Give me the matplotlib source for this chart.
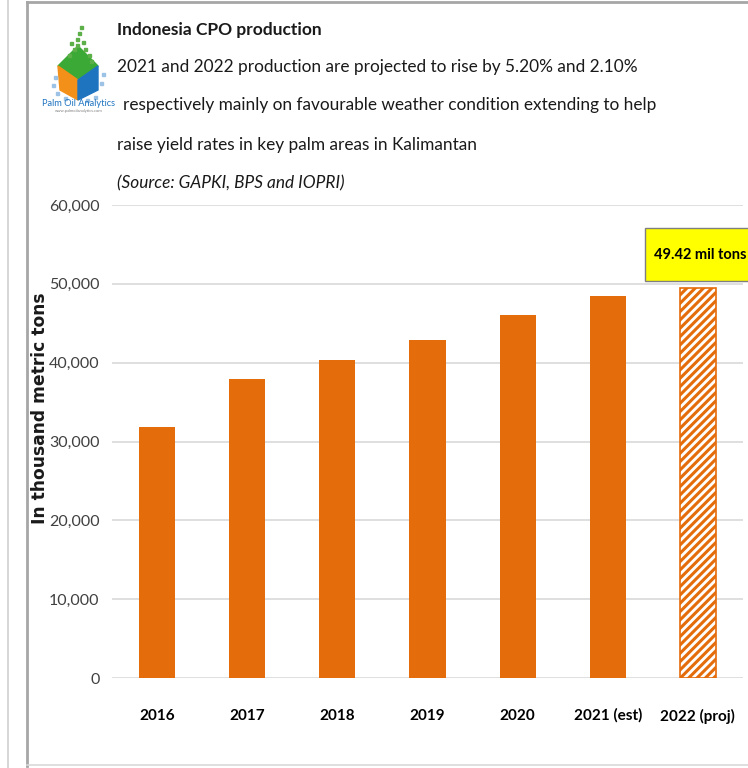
import matplotlib
matplotlib.use("Agg")
import matplotlib.pyplot as plt
from matplotlib.patches import Rectangle, Polygon
from matplotlib.lines import Line2D
from matplotlib.ticker import FuncFormatter

# Indonesia CPO production, thousand metric tons
years = ["2016", "2017", "2018", "2019", "2020", "2021 (est)", "2022 (proj)"]
production = [31800, 37900, 40400, 42900, 46000, 48400, 49420]
projected = [False, False, False, False, False, False, True]
yticks = [0, 10000, 20000, 30000, 40000, 50000, 60000]

ORANGE = "#E46C0A"
FONT = ["Lato", "DejaVu Sans"]
W, H = 748, 768

plt.rcParams["hatch.linewidth"] = 2.2
plt.rcParams["hatch.color"] = ORANGE
plt.rcParams["font.family"] = FONT

fig = plt.figure(figsize=(W / 100, H / 100), dpi=100)


def fx(px):
    return px / W


def fy(py):
    return 1 - py / H


def fit_width(txt, width_px):
    # scale the font size so the text spans the given pixel width
    fig.canvas.draw()
    bb = txt.get_window_extent()
    txt.set_fontsize(txt.get_fontsize() * width_px / bb.width)
    return txt.get_fontsize()


# panel frame lines
fig.add_artist(Line2D([fx(8), fx(8)], [0, 1], color="#D0D0D0", lw=1.2))
fig.add_artist(Line2D([fx(27), fx(27)], [fy(766), fy(2)], color="#A6A6A6", lw=2))
fig.add_artist(Line2D([fx(27), 1], [fy(2), fy(2)], color="#A6A6A6", lw=2))
fig.add_artist(Line2D([fx(27), 1], [fy(765), fy(765)], color="#D9D9D9", lw=1.2))

# bar chart
ax = fig.add_axes([fx(112), fy(678), fx(743) - fx(112), fy(205) - fy(678)])
x = range(len(years))
for i, (val, proj) in enumerate(zip(production, projected)):
    if proj:
        ax.bar(i, val, width=0.40, facecolor="white", edgecolor=ORANGE,
               hatch="////", linewidth=1.2, zorder=3)
    else:
        ax.bar(i, val, width=0.40, color=ORANGE, zorder=3)

ax.set_xlim(-0.5, len(years) - 0.5)
ax.set_ylim(0, 60000)
ax.set_yticks(yticks)
ax.yaxis.set_major_formatter(FuncFormatter(lambda v, p: f"{int(v):,}"))
ax.grid(axis="y", color="#D9D9D9", linewidth=1.2, zorder=0)
ax.set_axisbelow(True)
for s in ax.spines.values():
    s.set_visible(False)
ax.tick_params(axis="both", length=0)
ax.tick_params(axis="y", pad=9, labelcolor="#404040", labelsize=11.5)
ax.tick_params(axis="x", pad=22, labelsize=11)
ax.set_xticks(list(x))
ax.set_xticklabels(years)
for lab in ax.get_xticklabels():
    lab.set_fontweight("bold")

fig.text(fx(40), fy(408), "In thousand metric tons", rotation=90, ha="center",
         va="center", fontsize=12.3, fontweight="bold", color="#1a1a1a",
         family="DejaVu Sans")

# value callout for the projected year
fig.add_artist(Rectangle((fx(645), fy(281)), fx(120), fy(228) - fy(281),
                         facecolor="#FFFF00", edgecolor="#7F7F7F", lw=1.0))
fig.text(fx(700), fy(255), f"{production[-1] / 1000:.2f} mil tons", ha="center",
         va="center", fontsize=10.5, fontweight="bold", color="black")

# heading and notes
title = fig.text(fx(117), fy(30), "Indonesia CPO production", fontsize=14,
                 fontweight="bold", va="center", color="#1a1a1a")
fit_width(title, 205)
notes = [
    (117, 67, "2021 and 2022 production are projected to rise by 5.20% and 2.10%", "normal"),
    (123, 105, "respectively mainly on favourable weather condition extending to help", "normal"),
    (117, 145, "raise yield rates in key palm areas in Kalimantan", "normal"),
    (117, 183, "(Source: GAPKI, BPS and IOPRI)", "italic"),
]
note_texts = []
for px, py, txt, style in notes:
    note_texts.append(fig.text(fx(px), fy(py), txt, fontsize=14, style=style,
                               va="center", color="#1a1a1a"))
size = fit_width(note_texts[0], 524)
for t in note_texts[1:]:
    t.set_fontsize(size)

# logo
logo = fig.add_axes([fx(40), fy(120), fx(80), fy(20) - fy(120)])
logo.set_xlim(0, 80)
logo.set_ylim(100, 0)
logo.axis("off")
logo.add_patch(Polygon([(18, 46), (38, 26), (58, 46), (38, 60)], color="#3AA935"))
logo.add_patch(Polygon([(18, 46), (38, 60), (38, 80), (20, 70)], color="#F39019"))
logo.add_patch(Polygon([(38, 60), (58, 46), (58, 70), (38, 80)], color="#1F74C0"))
dots = [(30, 22), (36, 18), (42, 21), (38, 12), (33, 28), (44, 28), (48, 34),
        (28, 34), (40, 6), (36, 24), (50, 40), (14, 56), (12, 64), (16, 72),
        (62, 53), (60, 62), (54, 76), (46, 79), (24, 77)]
for dx, dy in dots:
    logo.add_patch(Rectangle((dx, dy), 3, 3, color="#5DAF4A" if dy < 45 else "#9CC3E6"))
logo.text(39, 84, "Palm Oil Analytics", ha="center", va="center", fontsize=6.7,
          color="#1F74C0")
logo.text(39, 91, "www.palmoilanalytics.com", ha="center", va="center", fontsize=3,
          color="#808080")

fig.savefig("out.png", dpi=100)
